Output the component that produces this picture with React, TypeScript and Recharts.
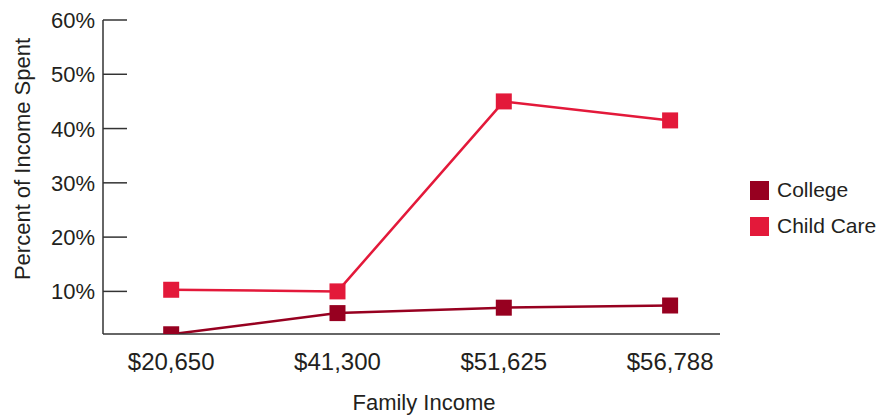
import React from "react";
import { LineChart, Line, XAxis, YAxis, Label } from "recharts";

const categories = ["$20,650", "$41,300", "$51,625", "$56,788"];
const college = [2.1, 6.0, 7.0, 7.4];
const childCare = [10.3, 10.0, 45.0, 41.5];
const yTicks = [10, 20, 30, 40, 50, 60];
const seriesNames = ["College", "Child Care"];

const COLLEGE = "#970020";
const CHILD = "#E3193A";
const TEXT = "#231F20";
const AXIS = "#333333";
const FONT = "'Liberation Sans', Arial, sans-serif";
const FS = 22;

const data = categories.map((c, i) => ({ idx: i, label: c, college: college[i], childCare: childCare[i] }));

const SquareDot = (color: string) => (props: any) => {
  const { cx, cy } = props;
  if (cx == null || cy == null) return null;
  return <rect x={cx - 8} y={cy - 8} width={16} height={16} fill={color} />;
};

const YTick = (props: any) => {
  const { x, y, payload } = props;
  return (
    <g>
      <line x1={x + 8} x2={x + 32} y1={y} y2={y} stroke={AXIS} strokeWidth={1.5} />
      <text x={x} y={y} dy={8} textAnchor="end" fontFamily={FONT} fontSize={FS} fill={TEXT}>
        {payload.value}%
      </text>
    </g>
  );
};

const XTick = (props: any) => {
  const { x, y, payload } = props;
  return (
    <text x={x} y={y + 36} textAnchor="middle" fontFamily={FONT} fontSize={24} fill={TEXT}>
      {categories[payload.value]}
    </text>
  );
};

export default function App() {
  const colors = [COLLEGE, CHILD];
  return (
    <div style={{ position: "absolute", left: 0, top: 0, width: 878, height: 415, background: "#fff" }}>
      <LineChart width={878} height={415} data={data} margin={{ top: 20, right: 158, bottom: 51, left: 0 }}>
        <XAxis
          dataKey="idx"
          type="number"
          height={30}
          domain={[-0.41, 3.3]}
          ticks={[0, 1, 2, 3]}
          tick={<XTick />}
          tickLine={false}
          tickSize={0}
          tickMargin={0}
          axisLine={{ stroke: AXIS, strokeWidth: 1.5 }}
          allowDataOverflow
        >
          <Label
            content={() => (
              <text x={424} y={410} textAnchor="middle" fontFamily={FONT} fontSize={FS} fill={TEXT}>
                Family Income
              </text>
            )}
          />
        </XAxis>
        <YAxis
          type="number"
          domain={[2.15, 60]}
          ticks={yTicks}
          width={103}
          tick={<YTick />}
          tickLine={false}
          tickSize={6}
          tickMargin={2}
          axisLine={{ stroke: AXIS, strokeWidth: 1.5 }}
          allowDataOverflow
        >
          <Label
            content={() => (
              <text
                x={30}
                y={159}
                transform="rotate(-90 30 159)"
                textAnchor="middle"
                fontFamily={FONT}
                fontSize={FS}
                fill={TEXT}
              >
                Percent of Income Spent
              </text>
            )}
          />
        </YAxis>
        <Line
          dataKey="college"
          stroke={COLLEGE}
          strokeWidth={2.5}
          dot={SquareDot(COLLEGE)}
          activeDot={false}
          isAnimationActive={false}
        />
        <Line
          dataKey="childCare"
          stroke={CHILD}
          strokeWidth={2.5}
          dot={SquareDot(CHILD)}
          activeDot={false}
          isAnimationActive={false}
        />
      </LineChart>
      <div style={{ position: "absolute", left: 750, top: 172 }}>
        {seriesNames.map((n, i) => (
          <div key={n} style={{ display: "flex", alignItems: "center", height: 36 }}>
            <div style={{ width: 19, height: 19, background: colors[i], marginRight: 8 }} />
            <span style={{ fontFamily: FONT, fontSize: 21, color: TEXT, lineHeight: "24px", whiteSpace: "nowrap" }}>
              {n}
            </span>
          </div>
        ))}
      </div>
    </div>
  );
}
